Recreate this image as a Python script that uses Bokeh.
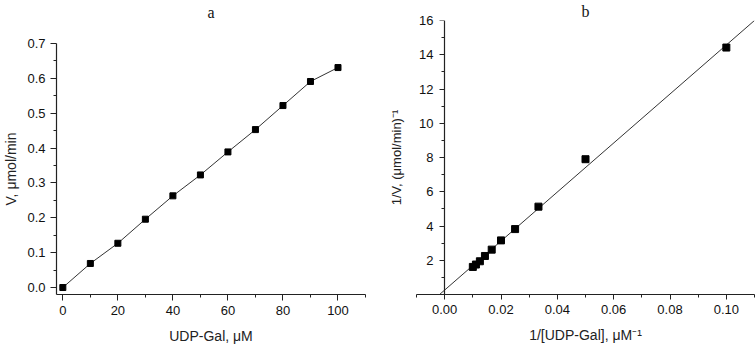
from bokeh.plotting import figure
from bokeh.layouts import row
from bokeh.models import FixedTicker, NumeralTickFormatter, Range1d, LinearAxis, CustomJSTickFormatter
from bokeh.embed import file_html
from bokeh.resources import INLINE

# ---- data: panel a (Michaelis-Menten) ----
udp_gal = [0, 10, 20, 30, 40, 50, 60, 70, 80, 90, 100]
velocity = [0.0, 0.069, 0.127, 0.196, 0.263, 0.323, 0.389, 0.453, 0.522, 0.591, 0.631]

# ---- data: panel b (Lineweaver-Burk) ----
inv_udp_gal = [0.01, 0.0111, 0.0125, 0.0143, 0.0167, 0.02, 0.025, 0.0333, 0.05, 0.1]
inv_velocity = [1.61, 1.75, 1.94, 2.25, 2.62, 3.16, 3.82, 5.13, 7.90, 14.42]
fit_slope = 143.1
fit_intercept = 0.26
fit_x = [-0.0018, 0.11]
fit_y = [fit_intercept + fit_slope * v for v in fit_x]

# ---- ticks ----
a_x_major = [0, 20, 40, 60, 80, 100]
a_x_minor = [10, 30, 50, 70, 90, 110]
a_y_major = [0.0, 0.1, 0.2, 0.3, 0.4, 0.5, 0.6, 0.7]
a_y_minor = [0.05, 0.15, 0.25, 0.35, 0.45, 0.55, 0.65]
b_x_major = [0.0, 0.02, 0.04, 0.06, 0.08, 0.10]
b_x_minor = [-0.01, 0.01, 0.03, 0.05, 0.07, 0.09, 0.11]
b_y_major = [2, 4, 6, 8, 10, 12, 14, 16]
b_y_minor = [1, 3, 5, 7, 9, 11, 13, 15]

FONT = "Liberation Sans"
SERIF = "Liberation Serif"


def style_axis(ax, major_len=6, minor_len=3):
    ax.axis_line_color = "#222222"
    ax.axis_line_width = 1.2
    ax.major_tick_line_color = "#222222"
    ax.minor_tick_line_color = "#222222"
    ax.major_tick_in = 0
    ax.major_tick_out = major_len
    ax.minor_tick_in = 0
    ax.minor_tick_out = minor_len
    ax.major_label_text_font = FONT
    ax.major_label_text_font_size = "13px"
    ax.major_label_text_color = "#111111"
    ax.major_label_standoff = 5
    ax.axis_label_text_font = FONT
    ax.axis_label_text_font_size = "14px"
    ax.axis_label_text_font_style = "normal"
    ax.axis_label_text_color = "#222222"


def style_title(t, text, standoff):
    t.text = text
    t.align = "center"
    t.vertical_align = "bottom"
    t.text_font = SERIF
    t.text_font_style = "normal"
    t.text_font_size = "16px"
    t.text_color = "#111111"
    t.standoff = standoff


# ---------------- panel a ----------------
pa = figure(width=378, height=347, output_backend="svg", toolbar_location=None,
            x_range=Range1d(-2.3, 110), y_range=Range1d(-0.02, 0.7),
            min_border_left=56, min_border_right=13, min_border_top=43, min_border_bottom=53)
pa.frame_align = False
pa.outline_line_color = None
pa.grid.visible = False
style_title(pa.title, "a", 0)

pa.line(udp_gal, velocity, line_color="#333333", line_width=1)
pa.scatter(udp_gal, velocity, marker="square", size=6, fill_color="black", line_color="black")

ax_a_x = pa.below[0]
ax_a_y = pa.left[0]
ax_a_x.ticker = FixedTicker(ticks=a_x_major, minor_ticks=a_x_minor)
ax_a_y.ticker = FixedTicker(ticks=a_y_major, minor_ticks=a_y_minor)
ax_a_x.formatter = NumeralTickFormatter(format="0")
ax_a_y.formatter = NumeralTickFormatter(format="0.0")
ax_a_x.axis_label = "UDP-Gal, μM"
ax_a_y.axis_label = "V, μmol/min"
style_axis(ax_a_x)
style_axis(ax_a_y)
ax_a_x.axis_label_standoff = 10
ax_a_y.axis_label_standoff = 5

# invisible spacer between the frame and the panel title
spacer = LinearAxis(ticker=FixedTicker(ticks=a_x_major[:1], minor_ticks=[]),
                    formatter=CustomJSTickFormatter(code="return ''"))
spacer.axis_line_color = None
spacer.major_tick_line_color = None
spacer.minor_tick_line_color = None
spacer.major_label_text_font_size = "1px"
spacer.major_label_standoff = 0
spacer.major_tick_in = 0
spacer.minor_tick_in = 0
spacer.major_tick_out = 23
spacer.minor_tick_out = 0
pa.add_layout(spacer, "above")

# ---------------- panel b ----------------
pb = figure(width=378, height=347, output_backend="svg", toolbar_location=None,
            x_range=Range1d(-0.01, 0.11), y_range=Range1d(0, 16),
            y_axis_location=None,
            min_border_left=38, min_border_right=2, min_border_top=19, min_border_bottom=53)
pb.frame_align = False
pb.outline_line_color = None
pb.grid.visible = False
style_title(pb.title, "b", 1)
pb.line(fit_x, fit_y, line_color="#333333", line_width=1)
pb.scatter(inv_udp_gal, inv_velocity, marker="square", size=7, fill_color="black", line_color="black")

ax_b_x = pb.below[0]
ax_b_x.ticker = FixedTicker(ticks=b_x_major, minor_ticks=b_x_minor)
ax_b_x.formatter = NumeralTickFormatter(format="0.00")
ax_b_x.axis_label = "1/[UDP-Gal], μM⁻¹"
style_axis(ax_b_x, major_len=5, minor_len=3)
ax_b_x.axis_label_standoff = 10

# y axis line + ticks drawn at x = 0
y_rule = LinearAxis(ticker=FixedTicker(ticks=b_y_major, minor_ticks=b_y_minor),
                    formatter=CustomJSTickFormatter(code="return ''"))
style_axis(y_rule, major_len=5, minor_len=3)
y_rule.fixed_location = 0
pb.add_layout(y_rule, "left")

# y tick labels and axis title (unclipped side axis)
y_text = LinearAxis(ticker=FixedTicker(ticks=b_y_major, minor_ticks=[]),
                    formatter=NumeralTickFormatter(format="0"),
                    axis_label="1/V, (μmol/min)⁻¹")
style_axis(y_text, major_len=0, minor_len=0)
y_text.axis_line_color = None
y_text.major_tick_line_color = None
y_text.minor_tick_line_color = None
y_text.major_label_standoff = -17
y_text.axis_label_standoff = 12
y_text.axis_label_text_font_size = "13px"
pb.add_layout(y_text, "left")

layout = row(pa, pb)
open("out.html", "w").write(file_html(layout, INLINE))
